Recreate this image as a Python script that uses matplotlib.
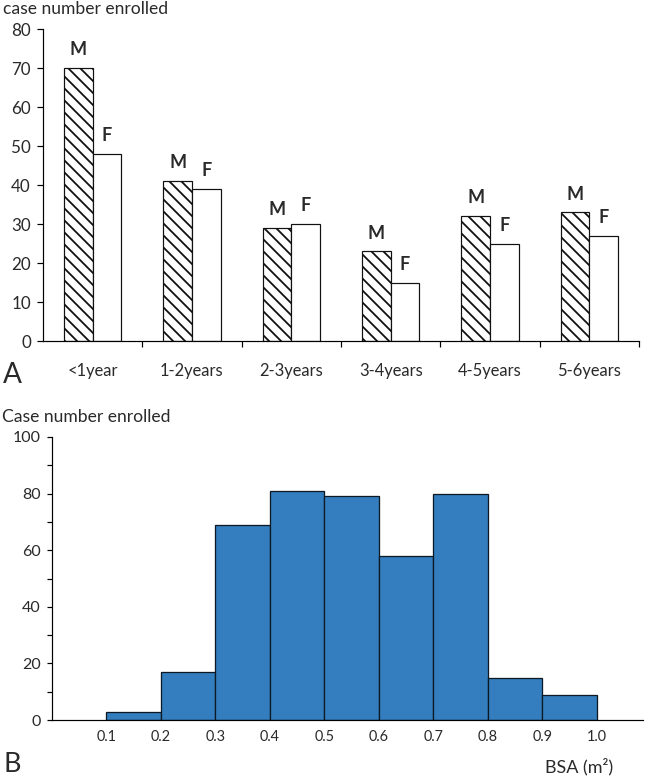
import matplotlib
matplotlib.use("Agg")
import matplotlib.pyplot as plt
import numpy as np

# ---- data ----
age_groups = ["<1year", "1-2years", "2-3years", "3-4years", "4-5years", "5-6years"]
male = [70, 41, 29, 23, 32, 33]
female = [48, 39, 30, 15, 25, 27]

bsa_edges = [0.1, 0.2, 0.3, 0.4, 0.5, 0.6, 0.7, 0.8, 0.9, 1.0]
bsa_counts = [3, 17, 69, 81, 79, 58, 80, 15, 9]
bsa_ticks = [0.1, 0.2, 0.3, 0.4, 0.5, 0.6, 0.7, 0.8, 0.9, 1.0]

DPI = 72
W, H = 646, 778
plt.rcParams['font.family'] = ['Lato', 'DejaVu Sans']
plt.rcParams['hatch.linewidth'] = 1.8
plt.rcParams['hatch.color'] = '#111111'
txt = '#2a2a2a'

fig = plt.figure(figsize=(W / DPI, H / DPI), dpi=DPI)

# ---- panel A ----
ax1 = fig.add_axes([43 / W, 1 - 341 / H, 596 / W, 312 / H])
x = np.arange(len(age_groups))
bw = 0.29
ax1.bar(x - bw / 2, male, width=bw, facecolor='white', edgecolor='#111111',
        hatch='\\\\', linewidth=1.2)
ax1.bar(x + bw / 2, female, width=bw, facecolor='white', edgecolor='#111111',
        linewidth=1.2)
for xi, m, f in zip(x, male, female):
    ax1.text(xi - bw / 2, m + 2.5, "M", ha='center', va='bottom',
             fontsize=18, fontweight='bold', color=txt)
    ax1.text(xi + bw / 2, f + 2.5, "F", ha='center', va='bottom',
             fontsize=18, fontweight='bold', color=txt)
ax1.set_xlim(-0.5, len(age_groups) - 0.5)
ax1.set_ylim(0, 80)
ax1.set_yticks(np.arange(0, 81, 10))
ax1.set_xticks(x)
ax1.set_xticklabels(age_groups)
ax1.set_xticks(np.arange(0.5, len(age_groups), 1.0), minor=True)
ax1.tick_params(axis='x', which='major', length=0, pad=22, labelsize=16.5, labelcolor=txt)
ax1.tick_params(axis='x', which='minor', length=6, width=1.2, direction='out')
ax1.tick_params(axis='y', length=6, width=1.2, direction='out', pad=6,
                labelsize=17, labelcolor=txt)
for s in ['top', 'right']:
    ax1.spines[s].set_visible(False)
for s in ['left', 'bottom']:
    ax1.spines[s].set_linewidth(1.2)
fig.text(3 / W, 1 - 9 / H, "case number enrolled", fontsize=17.5, color=txt,
         ha='left', va='center')
fig.text(3 / W, 1 - 375 / H, "A", fontsize=28, color=txt, ha='left', va='center')

# ---- panel B ----
ax2 = fig.add_axes([52 / W, 1 - 720 / H, 591 / W, 283 / H])
ax2.bar(bsa_edges[:-1], bsa_counts, width=np.diff(bsa_edges), align='edge',
        color='#347EBF', edgecolor='#0d1a26', linewidth=1.3)
ax2.set_xlim(0, 1.085)
ax2.set_ylim(0, 100)
ax2.set_yticks(np.arange(0, 101, 20))
ax2.set_yticks(np.arange(10, 100, 20), minor=True)
ax2.set_xticks(bsa_ticks)
ax2.set_xticklabels([f"{t:.1f}" for t in bsa_ticks])
ax2.tick_params(axis='x', length=0, pad=10, labelsize=14.5, labelcolor=txt)
ax2.tick_params(axis='y', which='both', length=5, width=1.2, direction='out',
                pad=6, labelsize=16, labelcolor=txt)
for s in ['top', 'right']:
    ax2.spines[s].set_visible(False)
for s in ['left', 'bottom']:
    ax2.spines[s].set_linewidth(1.2)
fig.text(2 / W, 1 - 417 / H, "Case number enrolled", fontsize=17.5, color=txt,
         ha='left', va='center')
fig.text(613 / W, 1 - 767 / H, "BSA (m²)", fontsize=18, color=txt,
         ha='right', va='center')
fig.text(3 / W, 1 - 765 / H, "B", fontsize=27, color=txt, ha='left', va='center')

fig.savefig("out.png", dpi=DPI)
